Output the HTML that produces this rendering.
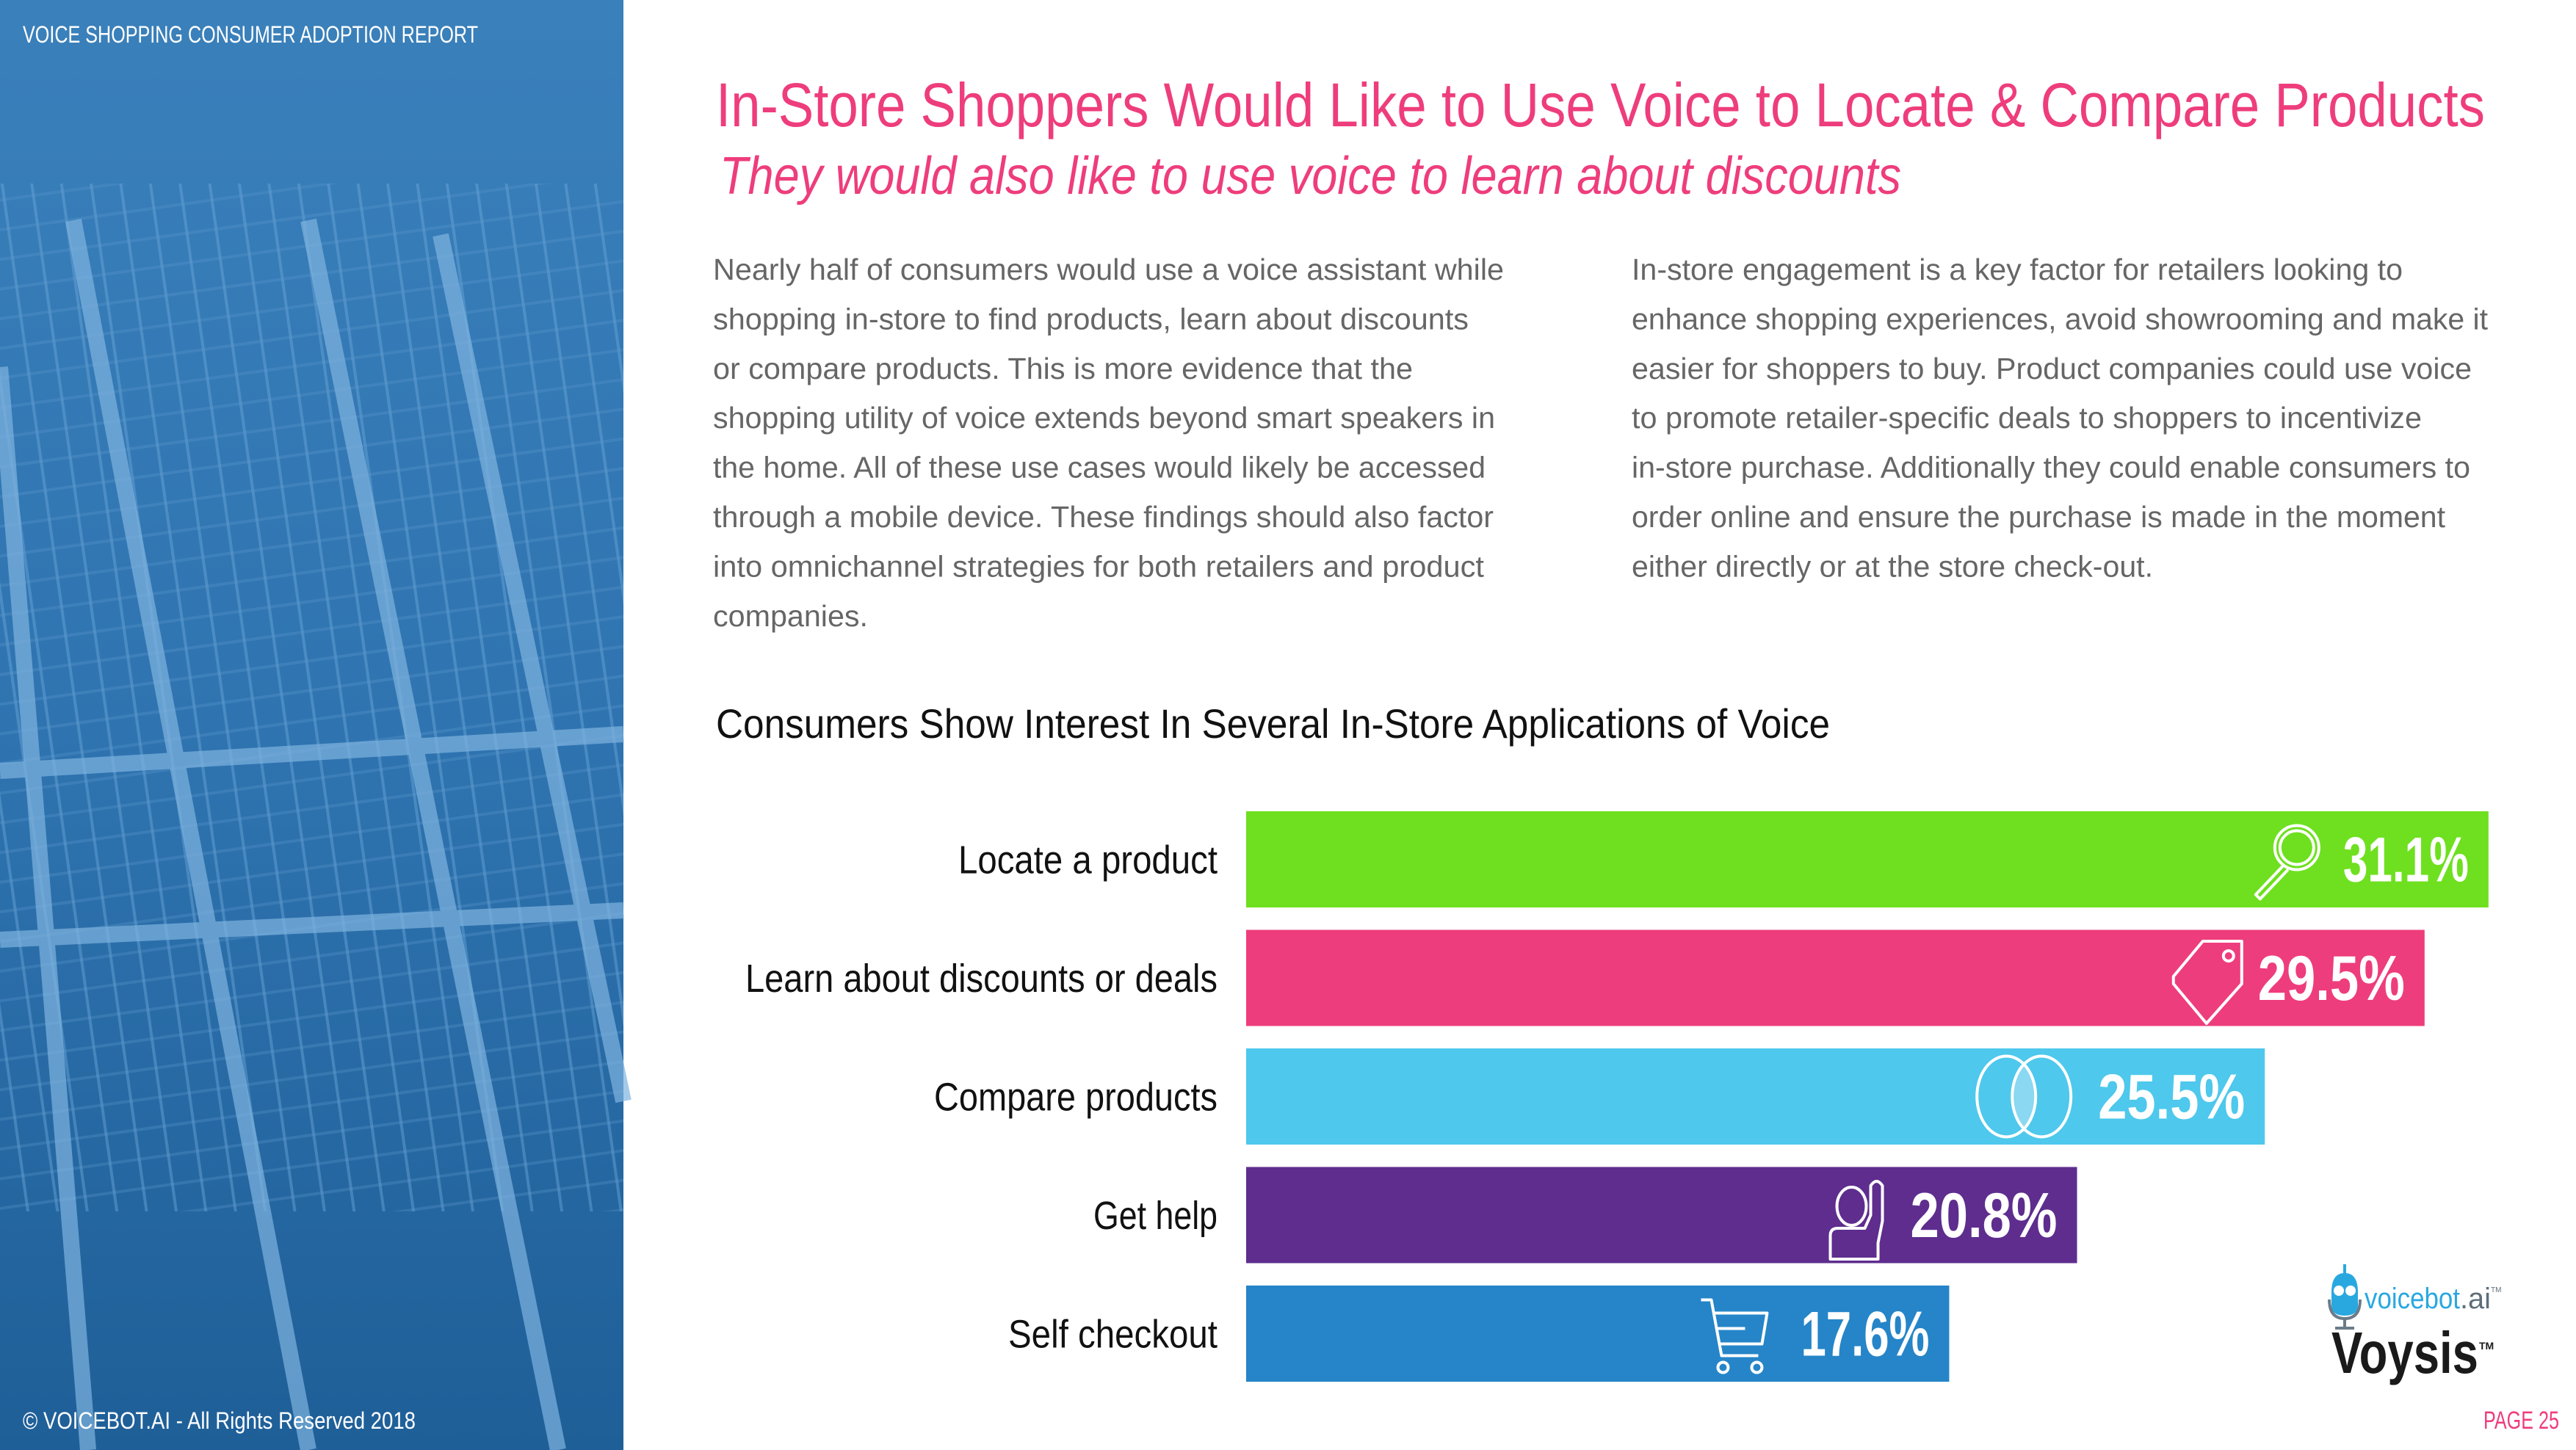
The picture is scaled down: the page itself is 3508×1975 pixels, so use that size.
<!DOCTYPE html>
<html><head><meta charset="utf-8"><style>
html,body{margin:0;padding:0;background:#fff;}
svg{display:block;}
text{font-family:"Liberation Sans",sans-serif;}
</style></head><body>
<svg id="page" width="3508" height="1975" viewBox="0 0 3508 1975" xmlns="http://www.w3.org/2000/svg">
<defs>
<linearGradient id="bg" x1="0" y1="0" x2="0" y2="1">
<stop offset="0" stop-color="#3a80bb"/><stop offset="0.5" stop-color="#2f74b0"/><stop offset="1" stop-color="#1f5f98"/>
</linearGradient>
<pattern id="wires" width="40" height="40" patternUnits="userSpaceOnUse" patternTransform="rotate(-8)">
<rect width="40" height="40" fill="none"/>
<line x1="8" y1="0" x2="8" y2="40" stroke="#6aa6d8" stroke-width="4" opacity="0.45"/>
<line x1="0" y1="30" x2="40" y2="30" stroke="#5b98cc" stroke-width="4" opacity="0.3"/>
</pattern>
</defs>
<g>
<rect x="0" y="0" width="849" height="1975" fill="url(#bg)"/>
<rect x="0" y="250" width="849" height="1400" fill="url(#wires)"/>
<g stroke="#7fb4e0" stroke-width="22" fill="none" opacity="0.7">
<line x1="100" y1="300" x2="420" y2="1975"/><line x1="420" y1="300" x2="760" y2="1975"/>
<line x1="600" y1="320" x2="849" y2="1500"/><line x1="0" y1="500" x2="120" y2="1975"/>
<path d="M0 1050 L849 1000"/><path d="M0 1280 L849 1240"/>
</g>
</g>
<text x="31" y="58" font-size="32" fill="#fff" textLength="620" lengthAdjust="spacingAndGlyphs">VOICE SHOPPING CONSUMER ADOPTION REPORT</text>
<text x="31" y="1946" font-size="32" fill="#fff" textLength="535" lengthAdjust="spacingAndGlyphs">© VOICEBOT.AI - All Rights Reserved 2018</text>

<text x="975" y="172" font-size="84" fill="#ee3d7c" textLength="2409" lengthAdjust="spacingAndGlyphs">In-Store Shoppers Would Like to Use Voice to Locate &amp; Compare Products</text>
<text x="980" y="264" font-size="72" font-style="italic" fill="#ee3d7c" textLength="1609" lengthAdjust="spacingAndGlyphs">They would also like to use voice to learn about discounts</text>

<g id="bodyL" font-size="41" fill="#666"></g>
<g id="bodyR" font-size="41" fill="#666"></g>

<text x="975" y="1005" font-size="56" fill="#111" textLength="1517" lengthAdjust="spacingAndGlyphs">Consumers Show Interest In Several In-Store Applications of Voice</text>

<g id="chart"></g>

<g>
<line x1="3193" y1="1722" x2="3193" y2="1736" stroke="#29a8e0" stroke-width="4"/>
<path d="M3175 1760 Q3175 1734 3193 1734 Q3211 1734 3211 1760 L3211 1778 Q3211 1792 3193 1792 Q3175 1792 3175 1778 Z" fill="#29a8e0"/>
<circle cx="3185" cy="1758" r="7" fill="#fff"/><circle cx="3201" cy="1758" r="7" fill="#fff"/>
<path d="M3172 1770 Q3172 1796 3193 1796 Q3214 1796 3214 1770" fill="none" stroke="#6b7c89" stroke-width="4"/>
<line x1="3193" y1="1796" x2="3193" y2="1808" stroke="#6b7c89" stroke-width="4"/>
<line x1="3180" y1="1809" x2="3206" y2="1809" stroke="#6b7c89" stroke-width="4"/>
<text x="3220" y="1782" font-size="40" fill="#29a8e0" textLength="130" lengthAdjust="spacingAndGlyphs">voicebot</text>
<text x="3350" y="1782" font-size="40" fill="#5e6e7a" textLength="42" lengthAdjust="spacingAndGlyphs">.ai</text>
<text x="3392" y="1760" font-size="10" fill="#5e6e7a">TM</text>
</g>
<g>
<text x="3175" y="1870" font-size="80" font-weight="bold" fill="#1a1a1a" textLength="200" lengthAdjust="spacingAndGlyphs">Voysis</text>
<text x="3376" y="1838" font-size="14" font-weight="bold" fill="#1a1a1a">TM</text>
</g>
<text x="3382" y="1946" font-size="34" fill="#ee3d7c" textLength="103" lengthAdjust="spacingAndGlyphs">PAGE 25</text>
</svg>
<script>
const NS='http://www.w3.org/2000/svg';
const categories=['Locate a product','Learn about discounts or deals','Compare products','Get help','Self checkout'];
const values=[31.1,29.5,25.5,20.8,17.6];
const valueLabels=['31.1%','29.5%','25.5%','20.8%','17.6%'];
const barColors=['#6ee01f','#ee3d7c','#4ec8ec','#5e2d8e','#2585c8'];
const iconKinds=['search','tag','compare','help','cart'];

const leftLines=[['Nearly half of consumers would use a voice assistant while',1077],['shopping in-store to find products, learn about discounts',1029],['or compare products. This is more evidence that the',953],['shopping utility of voice extends beyond smart speakers in',1065],['the home. All of these use cases would likely be accessed',1052],['through a mobile device. These findings should also factor',1063],['into omnichannel strategies for both retailers and product',1050],['companies.',211]];
const rightLines=[['In-store engagement is a key factor for retailers looking to',1050],['enhance shopping experiences, avoid showrooming and make it',1166],['easier for shoppers to buy. Product companies could use voice',1144],['to promote retailer-specific deals to shoppers to incentivize',1076],['in-store purchase. Additionally they could enable consumers to',1142],['order online and ensure the purchase is made in the moment',1108],['either directly or at the store check-out.',710]];

function mk(tag,attrs,parent){const e=document.createElementNS(NS,tag);for(const k in attrs)e.setAttribute(k,attrs[k]);if(parent)parent.appendChild(e);return e;}
function para(id,x,lines){
  const g=document.getElementById(id);
  lines.forEach((l,i)=>{
    const t=mk('text',{x:x,y:381+i*67.4,textLength:l[1],lengthAdjust:'spacingAndGlyphs'},g);
    
    
    t.textContent=l[0];
  });
}
para('bodyL',971,leftLines);
para('bodyR',2222,rightLines);

// axis functions
const X0=1697, PX_PER_PCT=54.4;
function xScale(v){return X0+v*PX_PER_PCT;}
function yBand(i){return 1105+i*161.5;}
const BAR_H=131;
const labelWidths=[353,643,386,169,285];
const valueWidths=[171,200,200,200,175];

function icon(kind,cx,cy,g){
  const s={fill:'none',stroke:'#fff','stroke-width':4,'stroke-linejoin':'round'};
  if(kind==='search'){
    mk('circle',Object.assign({cx:cx+14,cy:cy-16,r:30},s),g);
    mk('circle',Object.assign({cx:cx+14,cy:cy-16,r:23},s),g);
    mk('path',Object.assign({d:`M${cx-4} ${cy+8} L${cx-42} ${cy+48} L${cx-36} ${cy+54} L${cx+2} ${cy+14}`},s),g);
  }else if(kind==='tag'){
    mk('path',Object.assign({d:`M${cx+48} ${cy-50} L${cx+48} ${cy+8} L${cx} ${cy+62} L${cx-45} ${cy+8} L${cx-45} ${cy-2} L${cx-5} ${cy-50} Z`},s),g);
    mk('circle',Object.assign({cx:cx+30,cy:cy-30,r:7},s),g);
  }else if(kind==='compare'){
    mk('path',{d:`M${cx} ${cy-42} A40 55 0 0 1 ${cx} ${cy+42} A40 55 0 0 1 ${cx} ${cy-42}Z`,fill:'#8ad8f2'},g);
    mk('ellipse',Object.assign({cx:cx-24,cy:cy,rx:40,ry:55},s),g);
    mk('ellipse',Object.assign({cx:cx+24,cy:cy,rx:40,ry:55},s),g);
  }else if(kind==='help'){
    mk('ellipse',Object.assign({cx:cx-8,cy:cy-12,rx:20,ry:26},s),g);
    mk('path',Object.assign({d:`M${cx+18} ${cy-40} Q${cx+26} ${cy-52} ${cx+34} ${cy-40} L${cx+34} ${cy+8} L${cx+28} ${cy+38} L${cx+28} ${cy+60} L${cx-37} ${cy+60} L${cx-37} ${cy+28} Q${cx-37} ${cy+18} ${cx-27} ${cy+18} L${cx+10} ${cy+18} L${cx+18} ${cy}Z`},s),g);
  }else if(kind==='cart'){
    mk('path',Object.assign({d:`M${cx-50} ${cy-46} L${cx-36} ${cy-46} L${cx-22} ${cy+30} L${cx+28} ${cy+30} M${cx-32} ${cy-28} L${cx+40} ${cy-28} L${cx+33} ${cy+14} L${cx-24} ${cy+14} M${cx-28} ${cy-7} L${cx+10} ${cy-7}`},s),g);
    mk('circle',Object.assign({cx:cx-20,cy:cy+46,r:7},s),g);
    mk('circle',Object.assign({cx:cx+26,cy:cy+46,r:7},s),g);
  }
}

const chart=document.getElementById('chart');
const iconOffsets=[-275,-297,-328,-299,-288];
categories.forEach((c,i)=>{
  const y=yBand(i), x1=xScale(values[i]), cy=y+BAR_H/2;
  const lab=mk('text',{x:1658,y:cy+19,'font-size':54,fill:'#111','text-anchor':'end',textLength:labelWidths[i],lengthAdjust:'spacingAndGlyphs'},chart);
  
  
  lab.textContent=c;
  const r=mk('rect',{x:X0,y:y,width:x1-X0,height:BAR_H,fill:barColors[i]},chart);
  
  
  const v=mk('text',{x:x1-27-valueWidths[i],y:cy+30,'font-size':86,'font-weight':'bold',fill:'#fff',textLength:valueWidths[i],lengthAdjust:'spacingAndGlyphs'},chart);
  
  
  v.textContent=valueLabels[i];
  const ig=mk('g',{},chart);
  
  
  icon(iconKinds[i],x1+iconOffsets[i],cy,ig);
});
</script>
</body></html>
